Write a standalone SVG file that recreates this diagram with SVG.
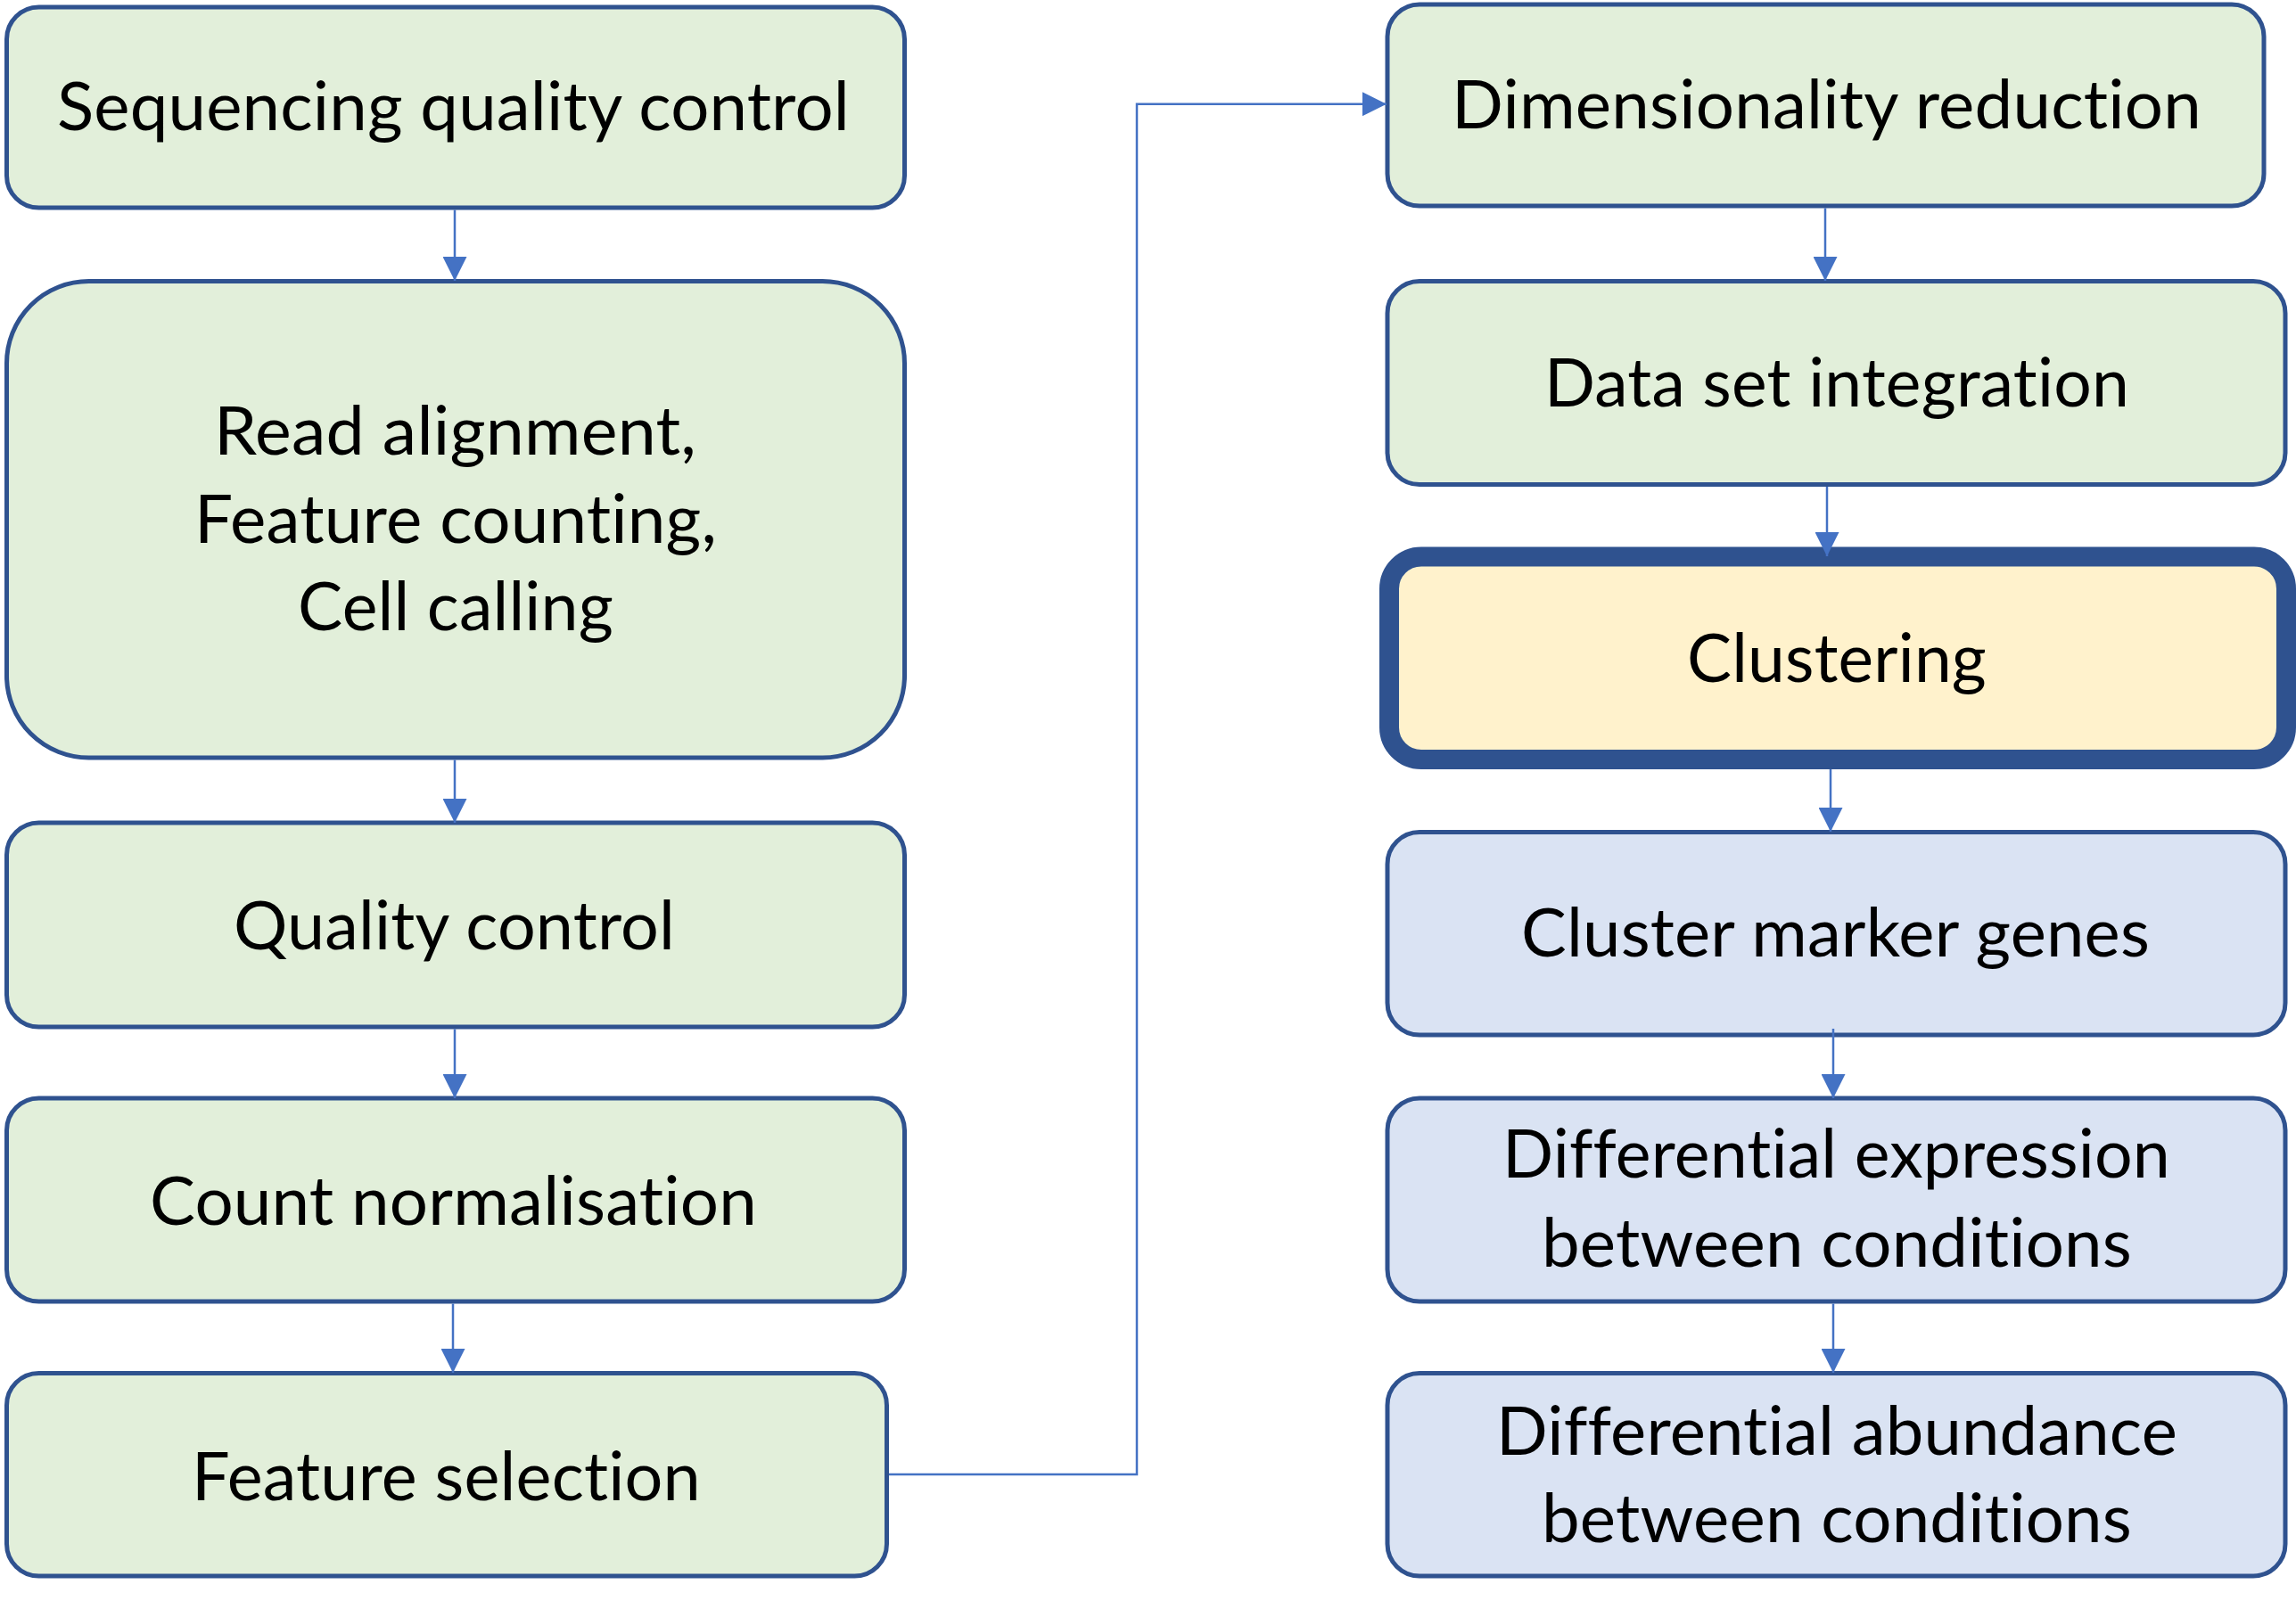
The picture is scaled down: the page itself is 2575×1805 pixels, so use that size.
<svg xmlns="http://www.w3.org/2000/svg" width="2575" height="1805" viewBox="0 0 2575 1805">
<defs>
<marker id="ah" markerUnits="userSpaceOnUse" markerWidth="27" markerHeight="27" refX="27" refY="13.5" orient="auto" viewBox="0 0 27 27">
<path d="M0,0 L27,13.5 L0,27 z" fill="#4472C4"/>
</marker>
<style>
.g{fill:#E2EFDA;stroke:#2F528F;stroke-width:5}
.b{fill:#DAE3F3;stroke:#2F528F;stroke-width:5}
.y{fill:#FFF2CC;stroke:#2F528F;stroke-width:22}
.t{font-family:Lato,"Open Sans","Liberation Sans",sans-serif;font-size:76px;fill:#000;text-anchor:middle;letter-spacing:0.2px;font-variant-ligatures:none;font-feature-settings:"liga" 0,"clig" 0,"calt" 0,"dlig" 0}
.c{fill:none;stroke:#4472C4;stroke-width:2.5;marker-end:url(#ah)}
</style>
</defs>
<rect width="2575" height="1805" fill="#fff"/>
<g id="n1"><rect class="g" x="7.5" y="8" width="1007" height="225" rx="36"/><text class="t" x="508.5" y="146" textLength="889" lengthAdjust="spacingAndGlyphs">Sequencing quality control</text></g>
<g id="n2"><rect class="g" x="7.5" y="315.5" width="1007" height="534.5" rx="92"/>
<text class="t" x="510.5" y="510" textLength="541" lengthAdjust="spacingAndGlyphs">Read alignment,</text>
<text class="t" x="511" y="608.5" textLength="586" lengthAdjust="spacingAndGlyphs">Feature counting,</text>
<text class="t" x="511" y="707" textLength="354" lengthAdjust="spacingAndGlyphs">Cell calling</text></g>
<g id="n3"><rect class="g" x="7.5" y="923" width="1007" height="229" rx="36"/><text class="t" x="509.5" y="1064.5" textLength="495" lengthAdjust="spacingAndGlyphs">Quality control</text></g>
<g id="n4"><rect class="g" x="7.5" y="1232" width="1007" height="228" rx="36"/><text class="t" x="508.5" y="1374" textLength="681" lengthAdjust="spacingAndGlyphs">Count normalisation</text></g>
<g id="n5"><rect class="g" x="7.5" y="1540.5" width="987" height="227.5" rx="36"/><text class="t" x="500.5" y="1683" textLength="571" lengthAdjust="spacingAndGlyphs">Feature selection</text></g>
<g id="n6"><rect class="g" x="1556" y="5" width="983" height="226" rx="36"/><text class="t" x="2048.5" y="143.5" textLength="841" lengthAdjust="spacingAndGlyphs">Dimensionality reduction</text></g>
<g id="n7"><rect class="g" x="1556" y="315.5" width="1007" height="228" rx="36"/><text class="t" x="2060" y="456" textLength="656" lengthAdjust="spacingAndGlyphs">Data set integration</text></g>
<g id="n8"><rect class="y" x="1558" y="624.5" width="1006" height="227.5" rx="36"/><text class="t" x="2060" y="765" textLength="336" lengthAdjust="spacingAndGlyphs">Clustering</text></g>
<g id="n9"><rect class="b" x="1556" y="933.5" width="1007" height="227.5" rx="36"/><text class="t" x="2058.5" y="1073" textLength="705" lengthAdjust="spacingAndGlyphs">Cluster marker genes</text></g>
<g id="n10"><rect class="b" x="1556" y="1232" width="1007" height="228" rx="36"/>
<text class="t" x="2059.5" y="1321" textLength="749" lengthAdjust="spacingAndGlyphs">Differential expression</text>
<text class="t" x="2060" y="1420.5" textLength="662" lengthAdjust="spacingAndGlyphs">between conditions</text></g>
<g id="n11"><rect class="b" x="1556" y="1540.5" width="1007" height="227.5" rx="36"/>
<text class="t" x="2060" y="1631.7" textLength="764" lengthAdjust="spacingAndGlyphs">Differential abundance</text>
<text class="t" x="2060" y="1730" textLength="662" lengthAdjust="spacingAndGlyphs">between conditions</text></g>
<g id="connectors">
<path class="c" d="M510,235.5 V315"/>
<path class="c" d="M510,852.5 V923"/>
<path class="c" d="M510,1154.5 V1232"/>
<path class="c" d="M508,1462.5 V1540"/>
<path class="c" d="M997,1654 H1275 V116.7 H1555"/>
<path class="c" d="M2047,233.5 V315"/>
<path class="c" d="M2049,546 V624"/>
<path class="c" d="M2053,863 V933"/>
<path class="c" d="M2056,1154 V1232"/>
<path class="c" d="M2056,1462.5 V1540"/>
</g>
</svg>
